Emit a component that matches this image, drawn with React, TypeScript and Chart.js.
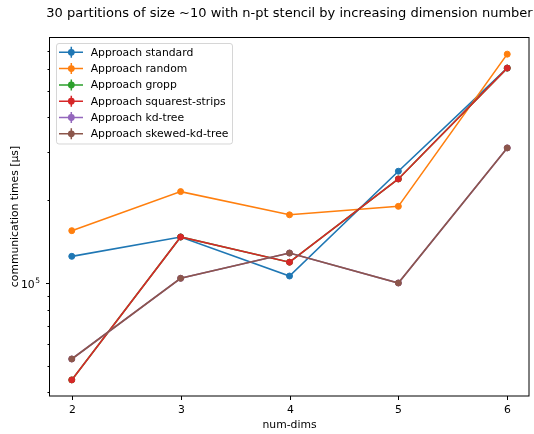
import React, { useEffect, useRef } from "react";
import { Chart, registerables } from "chart.js";

Chart.register(...registerables);

// Dimension numbers on the x axis
const dims = [2, 3, 4, 5, 6];

// Communication times in microseconds per partitioning approach
const standard = [1.25e5, 1.47e5, 1.06e5, 2.55e5, 6.05e5];
const random = [1.55e5, 2.15e5, 1.77e5, 1.9e5, 6.8e5];
const gropp = [4.44e4, 1.47e5, 1.19e5, 2.39e5, 6.05e5];
const squarestStrips = [4.44e4, 1.47e5, 1.19e5, 2.39e5, 6.05e5];
const kdTree = [5.29e4, 1.04e5, 1.285e5, 1.0e5, 3.1e5];
const skewedKdTree = [5.29e4, 1.04e5, 1.285e5, 1.0e5, 3.1e5];

const seriesNames = [
  "Approach standard",
  "Approach random",
  "Approach gropp",
  "Approach squarest-strips",
  "Approach kd-tree",
  "Approach skewed-kd-tree",
];
const seriesValues = [standard, random, gropp, squarestStrips, kdTree, skewedKdTree];
const seriesColors = ["#1f77b4", "#ff7f0e", "#2ca02c", "#d62728", "#9467bd", "#8c564b"];

// Axis ticks and ranges
const xTicks = [2, 3, 4, 5, 6];
const xRange = [1.8, 6.2];
const yMajorTicks = [1e5];
const yMinorTicks = [4e4, 5e4, 6e4, 7e4, 8e4, 9e4, 2e5, 3e5, 4e5, 5e5, 6e5, 7e5];
const yRange = [3.88e4, 7.85e5];

const titleText = "30 partitions of size ~10 with n-pt stencil by increasing dimension number";
const xLabel = "num-dims";
const yLabel = "communication times [μs]";

const FONT = "'DejaVu Sans', 'Liberation Sans', sans-serif";
const TXT = 10.8;

const axesDecor = {
  id: "axesDecor",
  afterDraw(chart: any) {
    const { ctx, chartArea } = chart;
    const xs = chart.scales.x;
    const ys = chart.scales.y;
    const { left, right, top, bottom } = chartArea;
    ctx.save();

    // frame
    ctx.strokeStyle = "#000";
    ctx.lineWidth = 1;
    ctx.strokeRect(Math.round(left) - 0.5, Math.round(top) + 0.5, Math.round(right - left) + 0.5, Math.round(bottom - top) - 0.5);

    // x ticks and labels
    ctx.fillStyle = "#000";
    ctx.font = `${TXT}px ${FONT}`;
    ctx.textAlign = "center";
    ctx.textBaseline = "alphabetic";
    xTicks.forEach((t) => {
      const px = Math.round(xs.getPixelForValue(t)) + 0.5;
      ctx.beginPath();
      ctx.moveTo(px, bottom);
      ctx.lineTo(px, bottom + 4);
      ctx.stroke();
      ctx.fillText(String(t), px, bottom + 17);
    });

    // y ticks
    const yTick = (v: number, len: number) => {
      const py = Math.round(ys.getPixelForValue(v)) + 0.5;
      ctx.beginPath();
      ctx.moveTo(left, py);
      ctx.lineTo(left - len, py);
      ctx.stroke();
      return py;
    };
    yMinorTicks.forEach((v) => yTick(v, 2.5));
    yMajorTicks.forEach((v) => {
      const py = yTick(v, 4);
      const exp = String(Math.round(Math.log10(v)));
      ctx.textAlign = "right";
      ctx.font = `7.5px ${FONT}`;
      const ew = ctx.measureText(exp).width;
      const rightEdge = left - 10;
      ctx.fillText(exp, rightEdge, py - 1);
      ctx.font = `${TXT}px ${FONT}`;
      ctx.fillText("10", rightEdge - ew - 0.5, py + 4);
    });

    // axis labels
    ctx.textAlign = "center";
    ctx.font = `${TXT}px ${FONT}`;
    ctx.fillText(xLabel, (left + right) / 2, 428);
    ctx.save();
    ctx.translate(18, (top + bottom) / 2);
    ctx.rotate(-Math.PI / 2);
    ctx.fillText(yLabel, 0, 0);
    ctx.restore();

    // title
    ctx.font = `13px ${FONT}`;
    ctx.fillText(titleText, (left + right) / 2, 17);

    // legend
    const bx = 56.5, by = 43.5, bw = 176, bh = 100.5;
    ctx.beginPath();
    ctx.roundRect(bx, by, bw, bh, 2.5);
    ctx.fillStyle = "rgba(255,255,255,0.8)";
    ctx.fill();
    ctx.strokeStyle = "rgba(204,204,204,0.8)";
    ctx.lineWidth = 1;
    ctx.stroke();
    ctx.font = `${TXT}px ${FONT}`;
    ctx.textAlign = "left";
    ctx.textBaseline = "middle";
    seriesNames.forEach((name, i) => {
      const ry = 52.3 + i * 16.3;
      const c = seriesColors[i];
      ctx.strokeStyle = c;
      ctx.lineWidth = 1.5;
      ctx.beginPath();
      ctx.moveTo(59, ry);
      ctx.lineTo(83, ry);
      ctx.moveTo(71.3, ry - 5.5);
      ctx.lineTo(71.3, ry + 5.5);
      ctx.stroke();
      ctx.fillStyle = c;
      ctx.beginPath();
      ctx.arc(71.3, ry, 3.4, 0, Math.PI * 2);
      ctx.fill();
      ctx.fillStyle = "#000";
      ctx.fillText(name, 90.7, ry + 0.5);
    });

    ctx.restore();
  },
};

export default function App() {
  const ref = useRef<HTMLCanvasElement | null>(null);

  useEffect(() => {
    document.body.style.margin = "0";
    if (!ref.current) return;
    const datasets = seriesValues.map((vals, i) => ({
      label: seriesNames[i],
      data: vals.map((v, j) => ({ x: dims[j], y: v })),
      borderColor: seriesColors[i],
      backgroundColor: seriesColors[i],
      borderWidth: 1.6,
      pointRadius: 3,
      pointBorderWidth: 1,
      pointBackgroundColor: seriesColors[i],
      pointBorderColor: seriesColors[i],
      tension: 0,
      order: -i,
    }));
    const chart = new Chart(ref.current, {
      type: "line",
      data: { datasets },
      options: {
        animation: false,
        responsive: false,
        devicePixelRatio: 1,
        layout: { padding: { left: 50, right: 2, top: 37, bottom: 38 } },
        plugins: { legend: { display: false }, title: { display: false }, tooltip: { enabled: false } },
        scales: {
          x: { type: "linear", min: xRange[0], max: xRange[1], display: false },
          y: { type: "logarithmic", min: yRange[0], max: yRange[1], display: false },
        },
      },
      plugins: [axesDecor],
    });
    return () => chart.destroy();
  }, []);

  return (
    <div style={{ width: 534, height: 434, background: "#fff" }}>
      <canvas ref={ref} width={534} height={434} style={{ display: "block" }} />
    </div>
  );
}
